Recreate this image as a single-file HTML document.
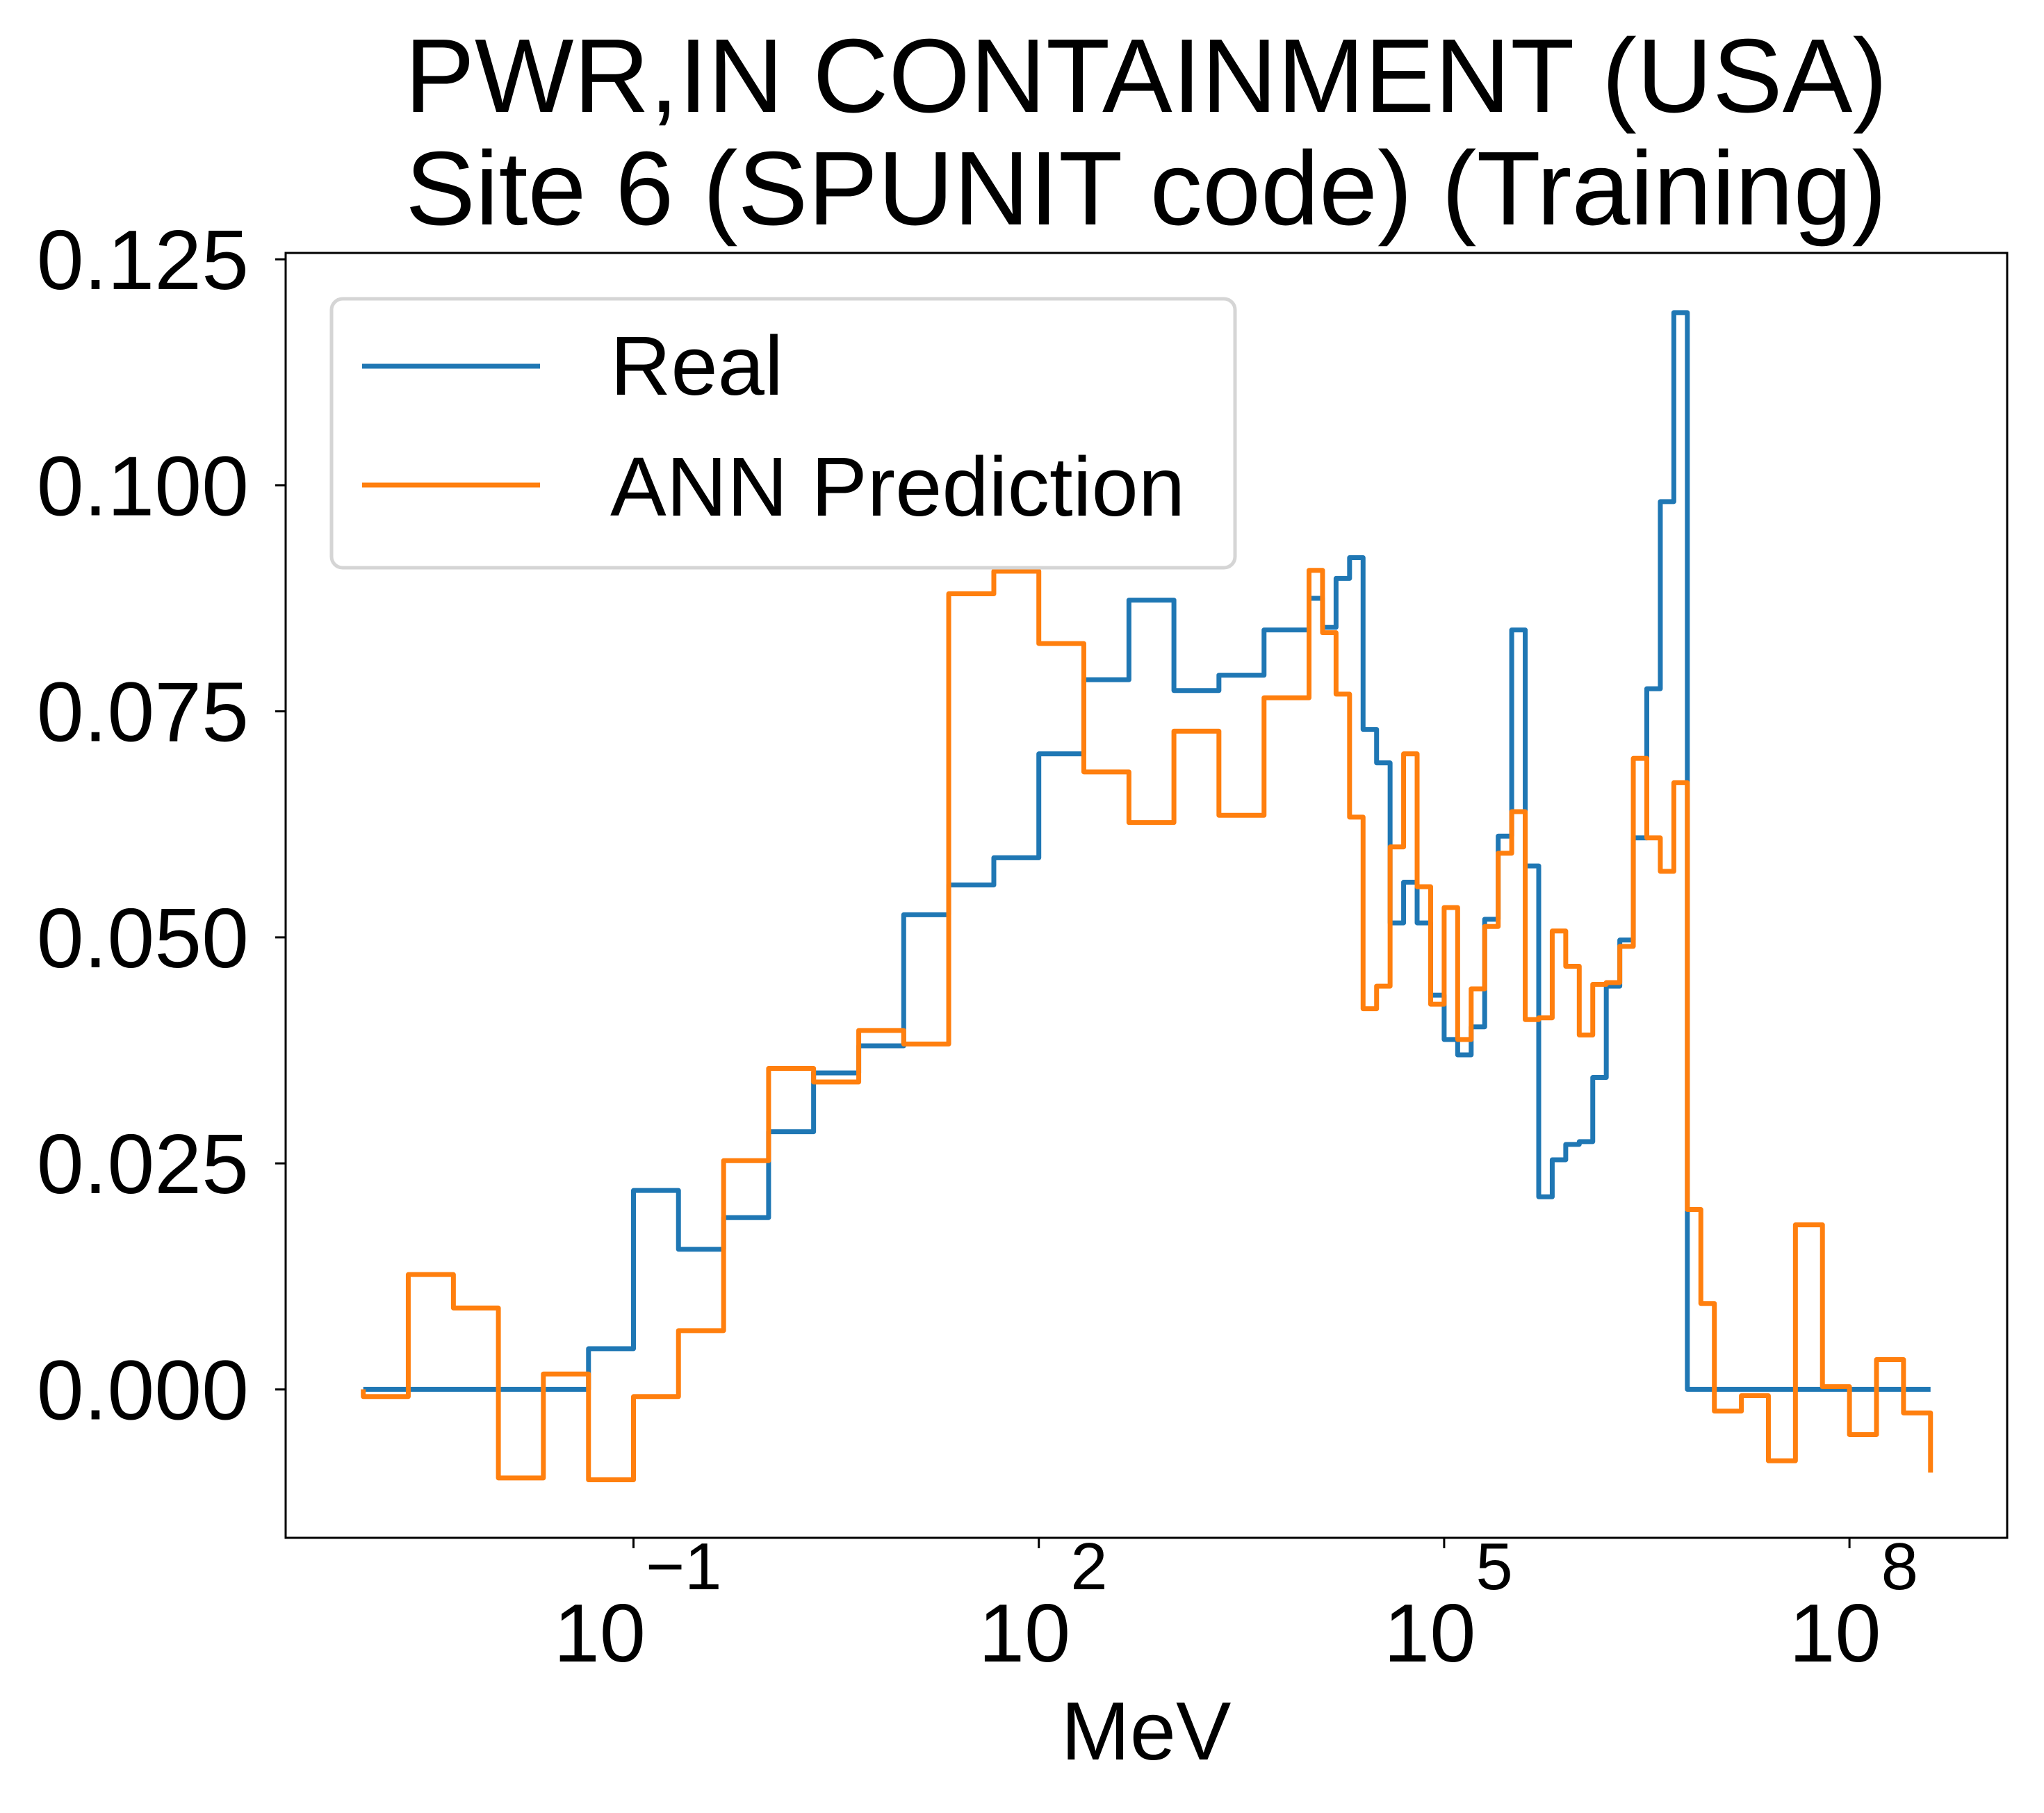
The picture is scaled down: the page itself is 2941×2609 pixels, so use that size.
<!DOCTYPE html>
<html><head><meta charset="utf-8"><style>
html,body{margin:0;padding:0;background:#fff;}
svg{display:block;font-family:"Liberation Sans",Arial,sans-serif;}
</style></head><body>
<svg id="chart" width="2941" height="2609" viewBox="0 0 2941 2609" xmlns="http://www.w3.org/2000/svg">
<rect x="0" y="0" width="2941" height="2609" fill="#fff"/>
<text x="1649" y="161" font-size="151" text-anchor="middle" fill="#000">PWR,IN CONTAINMENT (USA)</text>
<text x="1649" y="323" font-size="151" text-anchor="middle" fill="#000">Site 6 (SPUNIT code) (Training)</text>
<g id="series"></g>
<rect x="411" y="364" width="2477" height="1849" fill="none" stroke="#000" stroke-width="3"/>
<g id="yticks"></g>
<g id="xticks"></g>
<text x="1649" y="2532" font-size="119" text-anchor="middle" fill="#000">MeV</text>
<g>
<rect x="477" y="430" width="1300" height="387" rx="16" fill="#fff" fill-opacity="0.8" stroke="#d5d5d5" stroke-width="5"/>
<line x1="521" y1="527" x2="777" y2="527" stroke="#1f77b4" stroke-width="7"/>
<text x="878" y="568" font-size="121" fill="#000">Real</text>
<line x1="521" y1="698" x2="777" y2="698" stroke="#ff7f0e" stroke-width="7"/>
<text x="878" y="742" font-size="121" fill="#000">ANN Prediction</text>
</g>
</svg>
<script>
// bin edges in log10(MeV)
const binEdges = [-3,-2.667,-2.333,-2,-1.667,-1.333,-1,-0.667,-0.333,0,0.333,0.667,1,1.333,1.667,2,2.333,2.667,3,3.333,3.667,4,
4.1,4.2,4.3,4.4,4.5,4.6,4.7,4.8,4.9,5.0,5.1,5.2,5.3,5.4,5.5,5.6,5.7,5.8,5.9,6.0,6.1,6.2,6.3,6.4,6.5,6.6,6.7,6.8,6.9,
7.0,7.2,7.4,7.6,7.8,8.0,8.2,8.4,8.6];
const realValues = [0,0,0,0,0,0.0045,0.022,0.0155,0.019,0.0285,0.035,0.038,0.0525,0.0558,0.0588,0.0703,0.0785,0.0873,0.0773,0.079,0.084,
0.0875,0.0843,0.0897,0.0920,0.0730,0.0693,0.0516,0.0561,0.0516,0.0436,0.0387,0.0370,0.0401,0.0520,0.0612,0.0840,0.0579,0.0213,0.0254,0.0271,0.0274,0.0345,0.0446,0.0497,0.0610,0.0775,0.0982,0.1191,0,
0,0,0,0,0,0,0,0,0];
const annValues = [-0.0008,0.0127,0.009,-0.0098,0.0017,-0.01,-0.0008,0.0065,0.0253,0.0355,0.034,0.0397,0.0382,0.088,0.0905,0.0825,0.0683,0.0627,0.0728,0.0635,0.0765,
0.0906,0.0837,0.0769,0.0633,0.0421,0.0446,0.0600,0.0703,0.0556,0.0426,0.0533,0.0387,0.0443,0.0512,0.0593,0.0639,0.0409,0.0411,0.0507,0.0468,0.0392,0.0448,0.0450,0.0490,0.0698,0.0610,0.0573,0.0671,0.0199,
0.0095,-0.0024,-0.0007,-0.0079,0.0182,0.0003,-0.005,0.0033,-0.0026];
const annStart = 0;
const annEnd = -0.0092;
const yTickValues = [0, 0.025, 0.05, 0.075, 0.1, 0.125];
const yTickLabels = ["0.000","0.025","0.050","0.075","0.100","0.125"];
const xTickExps = [-1, 2, 5, 8];
const xTickSup = ["\u22121","2","5","8"];

const NS = "http://www.w3.org/2000/svg";
function xPos(lg){ return 911.5 + (lg - (-1)) * 194.4; }
function yPos(v){ return 1999.4 - v * 13010; }

function stepPath(vals, start, end){
  let d = "";
  if (start !== null) d += "M" + xPos(binEdges[0]) + "," + yPos(start) + " V" + yPos(vals[0]);
  else d += "M" + xPos(binEdges[0]) + "," + yPos(vals[0]);
  for (let i = 0; i < vals.length; i++){
    if (i > 0) d += " V" + yPos(vals[i]);
    d += " H" + xPos(binEdges[i+1]);
  }
  if (end !== null) d += " V" + yPos(end);
  return d;
}
const g = document.getElementById("series");
const pReal = document.createElementNS(NS, "path");
pReal.setAttribute("d", stepPath(realValues, null, null));
pReal.setAttribute("fill", "none");
pReal.setAttribute("stroke", "#1f77b4");
pReal.setAttribute("stroke-width", "7");
pReal.setAttribute("stroke-linejoin", "round");


g.appendChild(pReal);
const pAnn = document.createElementNS(NS, "path");
pAnn.setAttribute("d", stepPath(annValues, annStart, annEnd));
pAnn.setAttribute("fill", "none");
pAnn.setAttribute("stroke", "#ff7f0e");
pAnn.setAttribute("stroke-width", "7");
pAnn.setAttribute("stroke-linejoin", "round");


g.appendChild(pAnn);

const yg = document.getElementById("yticks");
yTickValues.forEach((v, i) => {
  const y = yPos(v);
  const t = document.createElementNS(NS, "line");
  t.setAttribute("x1", 396); t.setAttribute("x2", 411);
  t.setAttribute("y1", y); t.setAttribute("y2", y);
  t.setAttribute("stroke", "#000"); t.setAttribute("stroke-width", "3");
  
  
  yg.appendChild(t);
  const tx = document.createElementNS(NS, "text");
  tx.setAttribute("x", 358); tx.setAttribute("y", y + 43);
  tx.setAttribute("font-size", "122"); tx.setAttribute("text-anchor", "end");
  tx.textContent = yTickLabels[i];
  
  
  yg.appendChild(tx);
});
const xg = document.getElementById("xticks");
xTickExps.forEach((e, i) => {
  const x = xPos(e);
  const t = document.createElementNS(NS, "line");
  t.setAttribute("x1", x); t.setAttribute("x2", x);
  t.setAttribute("y1", 2213); t.setAttribute("y2", 2228);
  t.setAttribute("stroke", "#000"); t.setAttribute("stroke-width", "3");
  
  
  xg.appendChild(t);
  const tx = document.createElementNS(NS, "text");
  tx.setAttribute("x", x + 6); tx.setAttribute("y", 2391);
  tx.setAttribute("font-size", "119"); tx.setAttribute("text-anchor", "middle");
  const b = document.createElementNS(NS, "tspan");
  b.textContent = "10";
  const s = document.createElementNS(NS, "tspan");
  s.setAttribute("dy", "-104"); s.setAttribute("font-size", "96");
  s.textContent = xTickSup[i];
  tx.appendChild(b); tx.appendChild(s);
  
  
  xg.appendChild(tx);
});
</script>
</body></html>
